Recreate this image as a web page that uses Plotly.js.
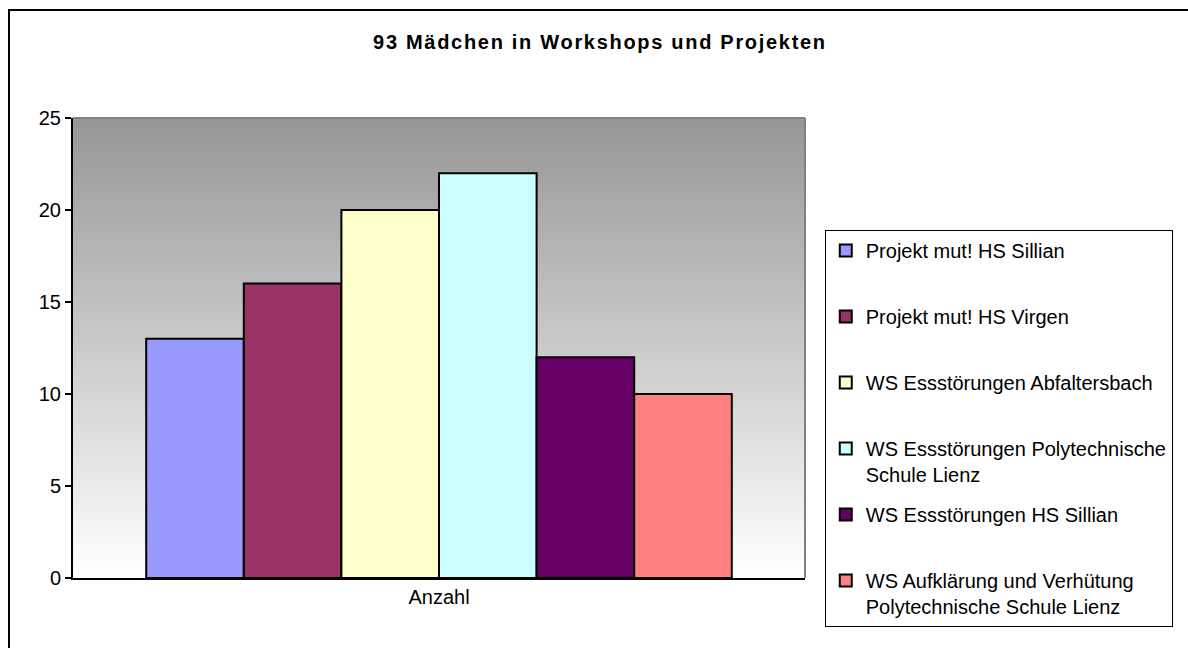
<!DOCTYPE html>
<html>
<head>
<meta charset="utf-8">
<script src="https://cdn.plot.ly/plotly-3.0.1.min.js"></script>
<style>
  html, body { margin: 0; padding: 0; background: #fff; overflow: hidden; }
  #chart { width: 1188px; height: 648px; position: absolute; left: 0; top: 0; }
  #frame { position: absolute; left: 8px; top: 9px; width: 1300px; height: 800px;
           border: 2px solid #000; pointer-events: none; box-sizing: border-box; }
  .gtitle { letter-spacing: 1.7px; }
</style>
</head>
<body>
<div id="chart"></div>
<div id="frame"></div>
<script>
// ---- data ----
const categories = ['Anzahl'];
const seriesNames = [
  'Projekt mut! HS Sillian',
  'Projekt mut! HS Virgen',
  'WS Essstörungen Abfaltersbach',
  'WS Essstörungen Polytechnische<br>Schule Lienz',
  'WS Essstörungen HS Sillian',
  'WS Aufklärung und Verhütung<br>Polytechnische Schule Lienz'
];
const seriesValues = [13, 16, 20, 22, 12, 10];
const seriesColors = ['#9999ff', '#993366', '#ffffcc', '#ccffff', '#660066', '#ff8080'];
const yTicks = [0, 5, 10, 15, 20, 25];

const FONT = 'Liberation Sans, Arial, sans-serif';

const traces = seriesNames.map((name, i) => ({
  type: 'bar',
  x: categories,
  y: [seriesValues[i]],
  name: name.includes('<br>') ? name : name + '<br> ',
  legendgroup: 'g' + i,
  marker: { color: seriesColors[i], line: { color: '#000', width: 2 } },
  hoverinfo: 'skip'
}));

const gradSvg = "<svg xmlns='http://www.w3.org/2000/svg' width='100' height='100' preserveAspectRatio='none'>" +
  "<defs><linearGradient id='g' x1='0' y1='0' x2='0' y2='1'>" +
  "<stop offset='0' stop-color='#969696'/><stop offset='1' stop-color='#ffffff'/>" +
  "</linearGradient></defs><rect width='100' height='100' fill='url(#g)'/></svg>";
const gradUri = 'data:image/svg+xml;charset=utf-8,' + encodeURIComponent(gradSvg);

const layout = {
  width: 1188, height: 648,
  margin: { l: 73, r: 383, t: 118, b: 70 },
  paper_bgcolor: '#ffffff',
  plot_bgcolor: 'rgba(0,0,0,0)',
  font: { family: FONT, size: 20, color: '#000' },
  title: {
    text: '<b>93 Mädchen in Workshops und Projekten</b>',
    font: { family: FONT, size: 20, color: '#000' },
    x: 0.505, xref: 'container', xanchor: 'center',
    y: 1 - 42 / 648, yref: 'container', yanchor: 'middle'
  },
  barmode: 'group',
  bargap: 0.2,
  bargroupgap: 0,
  showlegend: true,
  legend: {
    x: 1.027, xanchor: 'left', y: (578 - 230) / 460, yanchor: 'top',
    bgcolor: '#ffffff', bordercolor: '#000', borderwidth: 1,
    font: { family: FONT, size: 20, color: '#000' },
    tracegroupgap: 11, valign: 'top', traceorder: 'grouped',
    itemwidth: 30
  },
  xaxis: {
    type: 'category',
    showline: true, linecolor: '#000', linewidth: 2,
    ticks: '', showgrid: false, zeroline: false,
    tickfont: { family: FONT, size: 20, color: '#000' },
    fixedrange: true
  },
  yaxis: {
    range: [0, 25],
    tickvals: yTicks,
    ticktext: yTicks.map(String),
    showline: true, linecolor: '#000', linewidth: 2,
    ticks: 'outside', ticklen: 6, tickwidth: 2, tickcolor: '#000',
    showgrid: false, zeroline: false,
    tickfont: { family: FONT, size: 20, color: '#000' },
    fixedrange: true
  },
  images: [{
    source: gradUri, xref: 'paper', yref: 'paper', x: 0, y: 1,
    sizex: 1, sizey: 1, xanchor: 'left', yanchor: 'top',
    sizing: 'stretch', layer: 'below'
  }],
  shapes: [
    { type: 'line', xref: 'paper', yref: 'paper', x0: 0, x1: 1, y0: 1, y1: 1,
      line: { color: '#808080', width: 2 }, layer: 'below' },
    { type: 'line', xref: 'paper', yref: 'paper', x0: 1, x1: 1, y0: 0, y1: 1,
      line: { color: '#808080', width: 2 }, layer: 'below' }
  ]
};

Plotly.newPlot('chart', traces, layout, { staticPlot: true, displayModeBar: false });
</script>
</body>
</html>
